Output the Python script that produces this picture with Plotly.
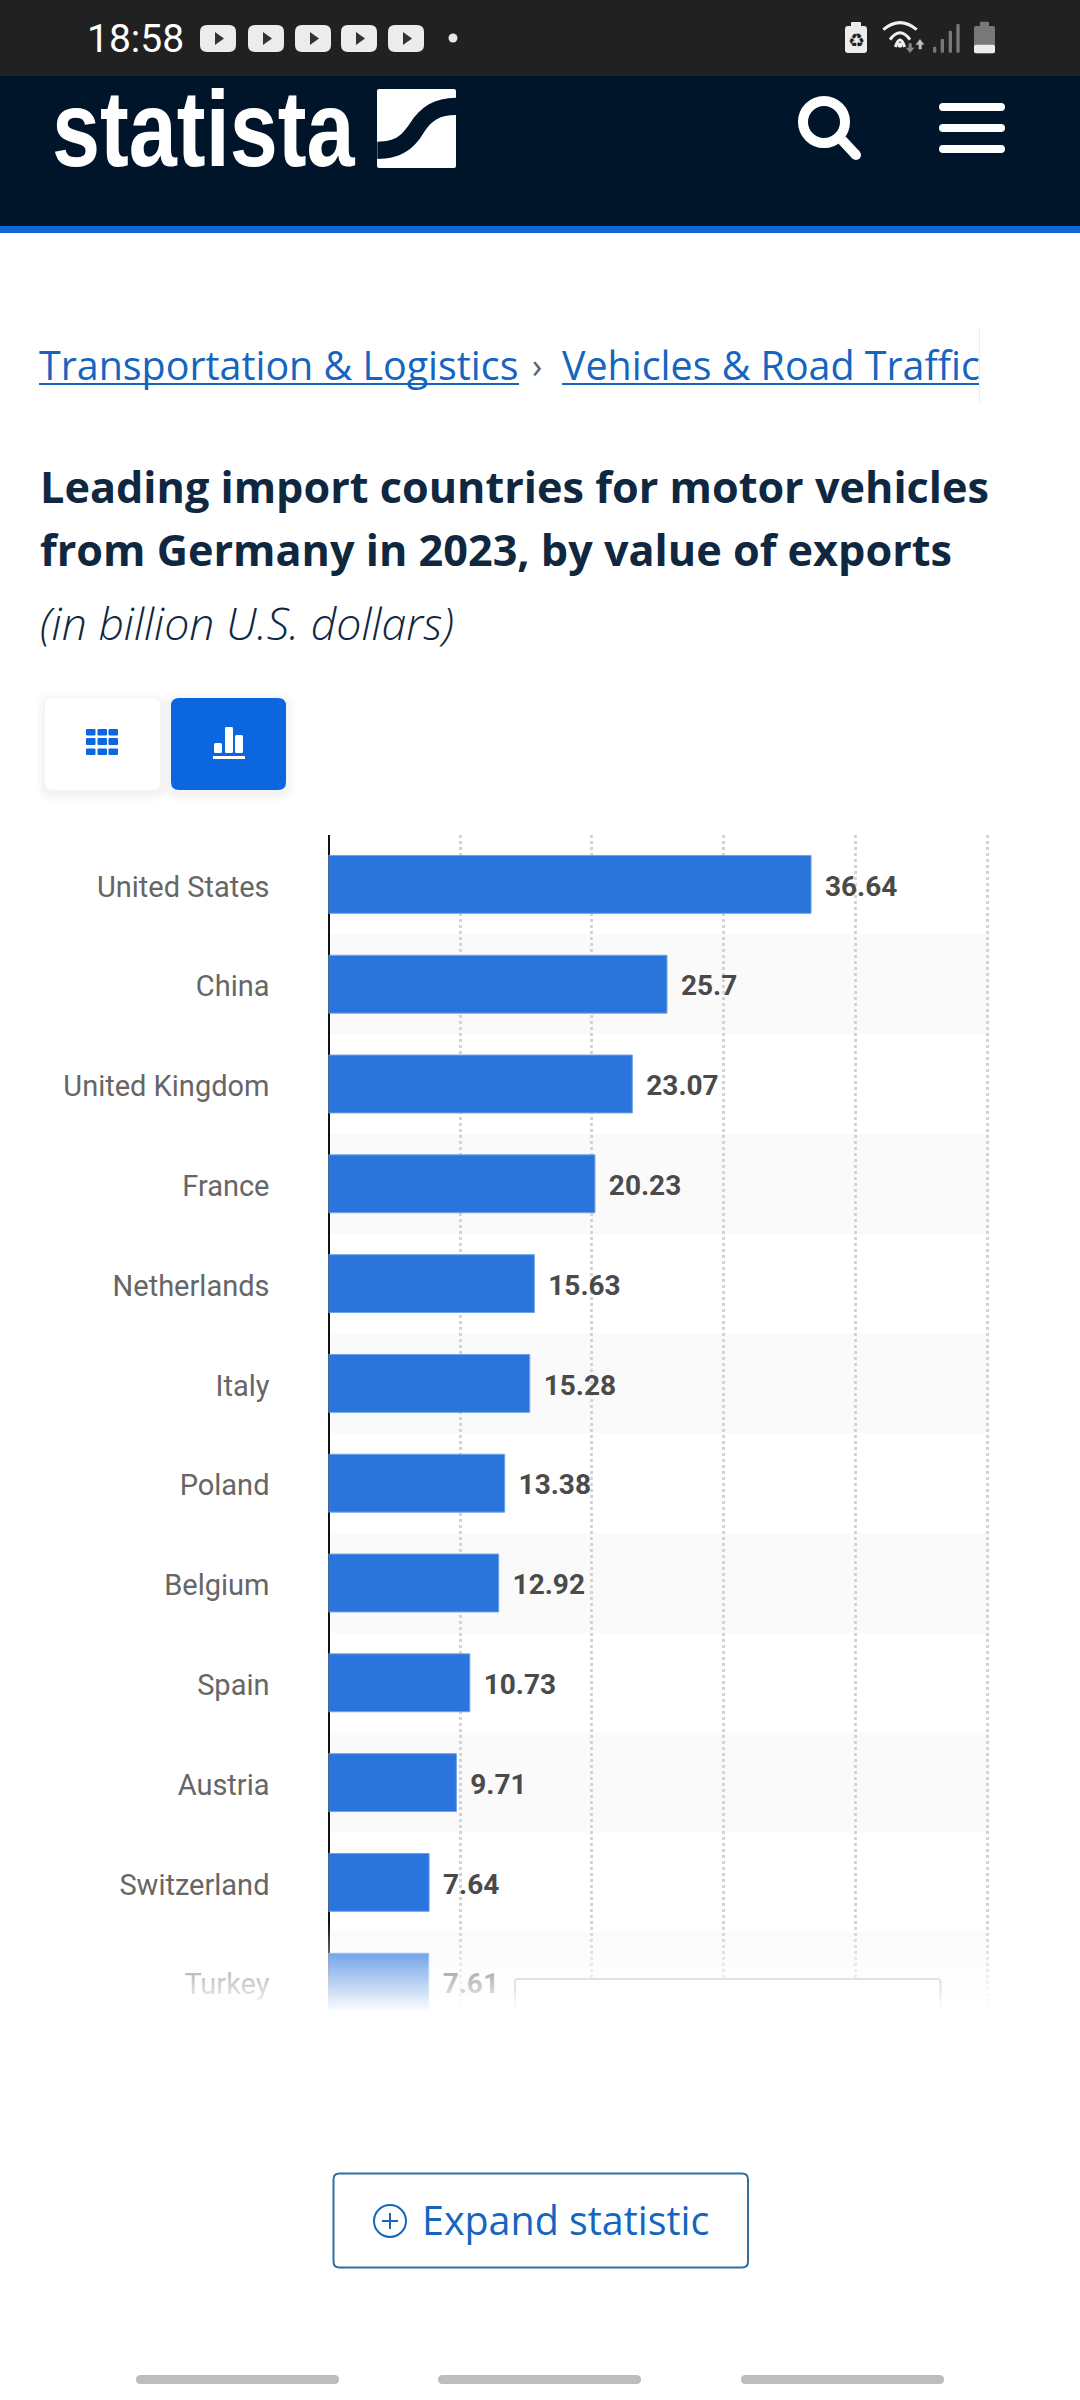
import plotly.graph_objects as go

categories = ["United States", "China", "United Kingdom", "France", "Netherlands", "Italy",
              "Poland", "Belgium", "Spain", "Austria", "Switzerland", "Turkey"]
values = [36.64, 25.7, 23.07, 20.23, 15.63, 15.28, 13.38, 12.92, 10.73, 9.71, 7.64, 7.61]
value_labels = ["36.64", "25.7", "23.07", "20.23", "15.63", "15.28", "13.38", "12.92", "10.73", "9.71", "7.64", "7.61"]
x_ticks = [0, 10, 20, 30, 40, 50]

W, H = 1080, 2400
NAVY = "#00142a"
BLUE = "#0b66e0"
LINK = "#1565c0"
TITLE = "#10283f"
X_MAX = 50.3
PLOT_L, PLOT_R, PLOT_T, PLOT_B = 328.5, 328.5 + 13.17 * X_MAX, 834.5, 2012.0
PITCH = 99.8


def X(x):
    return x / W


def Y(y):
    return 1 - y / H


shapes = []
annotations = []


def pth(cmds, fill=None, line=None, lw=0, **kw):
    parts = []
    for c in cmds:
        if isinstance(c, str):
            parts.append(c)
        else:
            parts.append(f"{X(c[0]):.5f},{Y(c[1]):.5f}")
    d = dict(type="path", xref="paper", yref="paper", path=" ".join(parts),
             fillcolor=fill if fill else "rgba(0,0,0,0)",
             line=dict(width=lw, color=line if line else "rgba(0,0,0,0)"))
    d.update(kw)
    shapes.append(d)


def rrect(x0, y0, x1, y1, r=0, fill=None, line=None, lw=0, **kw):
    if r == 0:
        cmds = ["M", (x0, y0), "L", (x1, y0), "L", (x1, y1), "L", (x0, y1), "Z"]
    else:
        cmds = ["M", (x0 + r, y0), "L", (x1 - r, y0), "Q", (x1, y0), (x1, y0 + r),
                "L", (x1, y1 - r), "Q", (x1, y1), (x1 - r, y1),
                "L", (x0 + r, y1), "Q", (x0, y1), (x0, y1 - r),
                "L", (x0, y0 + r), "Q", (x0, y0), (x0 + r, y0), "Z"]
    pth(cmds, fill, line, lw, **kw)


def circ(cx, cy, r, fill=None, line=None, lw=0):
    shapes.append(dict(type="circle", xref="paper", yref="paper",
                       x0=X(cx - r), x1=X(cx + r), y0=Y(cy + r), y1=Y(cy - r),
                       fillcolor=fill if fill else "rgba(0,0,0,0)",
                       line=dict(width=lw, color=line if line else "rgba(0,0,0,0)")))


def seg(x0, y0, x1, y1, color, lw):
    shapes.append(dict(type="line", xref="paper", yref="paper", x0=X(x0), x1=X(x1),
                       y0=Y(y0), y1=Y(y1), line=dict(color=color, width=lw)))


def text(x, y, s, size, color, family="Open Sans", anchor="left", **font):
    f = dict(size=size, color=color, family=family)
    f.update(font)
    annotations.append(dict(xref="paper", yref="paper", x=X(x), y=Y(y), text=s, showarrow=False,
                            xanchor=anchor, yanchor="middle", font=f, borderpad=0, borderwidth=0))


# ---- status bar
rrect(0, 0, W, 76, fill="#212121")
rrect(0, 76, W, 226, fill=NAVY)
rrect(0, 226, W, 233, fill="#0f66d6")
text(87, 39, "18:58", 39, "#ffffff", "Roboto")
for px0 in [200, 248, 295, 341, 388]:
    rrect(px0, 25, px0 + 36, 52, r=7, fill="#ececec")
    pth(["M", (px0 + 15, 32), "L", (px0 + 24, 38.5), "L", (px0 + 15, 45), "Z"], fill="#333333")
circ(453, 38, 4.5, fill="#e8e8e8")
# battery saver bottle
rrect(845, 26, 867, 53, r=3, fill="#ececec")
rrect(851, 22, 861, 28, r=1, fill="#ececec")
text(856, 40, "♻", 19, "#212121", "DejaVu Sans", anchor="center")
# wifi
sx = lambda v: 830 + v / 3
sy = lambda v: 10 + v / 3
for a, b, c in [(160, 38, 60), (180, 68, 55), (196, 90, 46)]:
    pth(["M", (sx(a), sy(b + 21)), "Q", (sx(210), sy(b - 21)), (sx(420 - a), sy(b + 21))], line="#f0f0f0", lw=3)
circ(sx(210), sy(105), 2.6, fill="#f0f0f0")
pth(["M", (sx(236), sy(100)), "L", (sx(245), sy(100)), "L", (sx(245), sy(113)), "L", (sx(253), sy(113)),
     "L", (sx(240), sy(129)), "L", (sx(228), sy(113)), "L", (sx(236), sy(113)), "Z"], fill="#8a8a8a")
pth(["M", (sx(266), sy(118)), "L", (sx(275), sy(118)), "L", (sx(275), sy(104)), "L", (sx(283), sy(104)),
     "L", (sx(270), sy(87)), "L", (sx(257), sy(104)), "L", (sx(266), sy(104)), "Z"], fill="#bdbdbd")
for a, b, c in [(309, 319, 110), (332, 342, 87), (356, 366, 62), (379, 389, 42)]:
    rrect(sx(a), sy(c), sx(b), sy(128), r=1, fill="#787878")
rrect(sx(432), sy(48), sx(495), sy(130), r=2, fill="#787878")
rrect(sx(450), sy(35), sx(477), sy(50), r=1, fill="#787878")
rrect(sx(432), sy(104), sx(495), sy(130), r=2, fill="#ececec")

# ---- header
text(52, 129, "statista", 108, "#ffffff", "Liberation Sans", weight=700)
rrect(377, 89, 456, 168, r=2, fill="#ffffff")
lx = lambda v: 360 + v / 3
ly = lambda v: 75 + v / 3
pth(["M", (lx(52), ly(200)), "C", (lx(110), ly(200)), (lx(125), ly(180)), (lx(150), ly(145)),
     "C", (lx(180), ly(95)), (lx(225), ly(68)), (lx(288), ly(68)),
     "L", (lx(288), ly(120)),
     "C", (lx(240), ly(120)), (lx(215), ly(135)), (lx(190), ly(175)),
     "C", (lx(160), ly(225)), (lx(120), ly(252)), (lx(52), ly(252)), "Z"], fill=NAVY)
circ(824, 122, 21, line="#ffffff", lw=10)
seg(842, 140, 856, 155, "#ffffff", 10)
circ(856, 155, 5, fill="#ffffff")
for yy in [103, 124, 145]:
    rrect(939, yy, 1005, yy + 8, r=4, fill="#ffffff")

# ---- breadcrumb
text(39, 365, "Transportation &amp; Logistics", 39.4, LINK)
text(532, 365, "›", 34, "#5a6570")
text(562, 365, "Vehicles &amp; Road Traffic", 39.4, LINK)
seg(39, 384, 519, 384, LINK, 2)
seg(562, 384, 979, 384, LINK, 2)
seg(979.5, 328, 979.5, 402, "#ececec", 1)

# ---- title
text(40, 487, "Leading import countries for motor vehicles", 43.2, TITLE, weight=700)
text(40, 549, "from Germany in 2023, by value of exports", 43.2, TITLE, weight=700)
text(40, 622, "(in billion U.S. dollars)", 44.6, TITLE, style="italic", weight=300)

# ---- toggle buttons
for grow, op in [(9, 0.012), (6, 0.014), (3, 0.016)]:
    rrect(45 - grow, 698 - grow + 3, 160 + grow, 790 + grow + 3, r=8 + grow, fill=f"rgba(0,0,0,{op})")
    rrect(171 - grow, 698 - grow + 3, 286 + grow, 790 + grow + 3, r=8 + grow, fill=f"rgba(0,0,0,{op})")
rrect(45, 698, 160, 790, r=8, fill="#ffffff")
rrect(171, 698, 286, 790, r=8, fill=BLUE)
for yy0, yy1 in [(729, 735.5), (738, 745), (748.5, 755)]:
    for xx0 in [86, 97.5, 108.5]:
        rrect(xx0, yy0, xx0 + 9.5, yy1, r=1, fill=BLUE)
for xa, ya in [(214, 743), (225, 727), (235, 735)]:
    rrect(xa, ya, xa + 8, 753, r=1.5, fill="#ffffff")
rrect(213, 756, 245, 759, fill="#ffffff")

# ---- alternating row bands (in axis coordinates)
for i in range(1, len(categories), 2):
    shapes.append(dict(type="rect", xref="x", yref="y", x0=0, x1=X_MAX - 0.1, y0=i - 0.5, y1=min(i + 0.5, 11.3),
                       fillcolor="#fafafa", line=dict(width=0), layer="below"))

# ---- fade at the foot of the chart
FADE_TOP, FADE_END = 1922, 2012
n = (FADE_END - FADE_TOP)
for k in range(n):
    op = (k + 0.5) / n
    rrect(0, FADE_TOP + k, W, FADE_TOP + k + 1, fill=f"rgba(255,255,255,{op:.3f})")
rrect(0, FADE_END, W, 2050, fill="#ffffff")

# ---- box that the fade runs over
rrect(515, 1979, 940.5, 2040, r=3, fill="#ffffff", line="#e2e2e2", lw=2)
for k in range(1985, 2012):
    op = (k - 1985 + 0.5) / 27
    rrect(505, k, 950, k + 1, fill=f"rgba(255,255,255,{op:.3f})")
rrect(505, 2012, 950, 2050, fill="#ffffff")

# ---- expand button
rrect(333.5, 2173.5, 748, 2267.5, r=6, fill="#ffffff", line="#2f6f9f", lw=2)
circ(390, 2221, 16, line=LINK, lw=2)
seg(382, 2221, 398, 2221, LINK, 2)
seg(390, 2213, 390, 2229, LINK, 2)
text(422, 2220, "Expand statistic", 39.4, LINK)

# ---- bottom indicators
for a, b in [(136, 339), (438, 641), (741, 944)]:
    rrect(a, 2375, b, 2384, r=4.5, fill="#bdbdbd")

fig = go.Figure()
fig.add_bar(
    y=categories, x=values, orientation="h", width=0.58,
    marker=dict(color="#2975db", line=dict(color="#6ea2e8", width=1)),
    hoverinfo="skip",
)
# value labels sit on a hidden twin axis, offset a hair below the bar centre
fig.add_scatter(
    x=values, y=list(range(len(categories))), yaxis="y2", mode="text",
    text=["\u00a0\u00a0" + s for s in value_labels], textposition="middle right", cliponaxis=False,
    textfont=dict(family="Roboto", size=28, color="#4a4a4a", weight=700),
    hoverinfo="skip",
)
LABEL_SHIFT = 0.043
R_BOTTOM = (PLOT_B - PLOT_T) / PITCH - 0.5
fig.update_layout(
    width=W, height=H, margin=dict(l=0, r=0, t=0, b=0), autosize=False,
    paper_bgcolor="#ffffff", plot_bgcolor="rgba(0,0,0,0)", showlegend=False,
    shapes=shapes, annotations=annotations,
    xaxis=dict(domain=[X(PLOT_L), X(PLOT_R)], range=[0, X_MAX], tickvals=x_ticks, showticklabels=False,
               showgrid=True, gridcolor="#d4d4d4", gridwidth=3, griddash="3px,3px",
               zeroline=True, zerolinecolor="#111111", zerolinewidth=2, fixedrange=True),
    yaxis=dict(domain=[Y(PLOT_B), Y(PLOT_T)], range=[R_BOTTOM, -0.5],
               type="category", categoryorder="array", categoryarray=categories,
               tickfont=dict(family="Roboto", size=29, color="#666666"), ticklabelstandoff=58,
               ticklabelshift=-2,
               ticks="", showgrid=False, zeroline=False, showline=False, fixedrange=True),
    yaxis2=dict(overlaying="y", domain=[Y(PLOT_B), Y(PLOT_T)], range=[R_BOTTOM - LABEL_SHIFT, -0.5 - LABEL_SHIFT],
                visible=False, fixedrange=True),
)
post = """
document.body.style.margin='0';document.body.style.overflow='hidden';
document.querySelectorAll('text.annotation-text').forEach(function(t){
  if(t.textContent==='statista'){
    var b=t.getBBox();var old=t.getAttribute('transform')||'';
    t.setAttribute('transform',old+' translate('+b.x+',0) scale(0.80,1) translate('+(-b.x)+',0)');
  }
});
"""
fig.write_html("out.html", config=dict(displayModeBar=False), post_script=post)
